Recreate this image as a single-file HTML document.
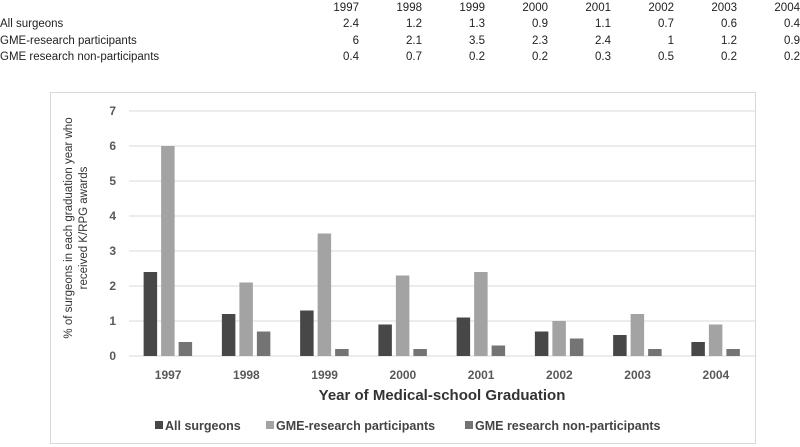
<!DOCTYPE html>
<html><head><meta charset="utf-8"><style>
body{margin:0;width:800px;height:447px;background:#fff;font-family:"Liberation Sans",sans-serif;overflow:hidden;position:relative}
#tbl{position:absolute;left:0;top:0;font-size:11.5px;color:#222}
.r{position:absolute;white-space:nowrap;height:16px;line-height:16px}
.c{position:absolute;text-align:right;width:50px}
</style></head><body>
<div id="tbl"></div>
<svg id="ch" width="800" height="447" style="position:absolute;left:0;top:0"></svg>
<script>
const years=["1997","1998","1999","2000","2001","2002","2003","2004"];
const seriesNames=["All surgeons","GME-research participants","GME research non-participants"];
const allSurgeons=[2.4,1.2,1.3,0.9,1.1,0.7,0.6,0.4];
const gmeParticipants=[6,2.1,3.5,2.3,2.4,1,1.2,0.9];
const gmeNonParticipants=[0.4,0.7,0.2,0.2,0.3,0.5,0.2,0.2];
const yTicks=[0,1,2,3,4,5,6,7];
const series=[allSurgeons,gmeParticipants,gmeNonParticipants];
const colors=["#474747","#a3a3a3","#747474"];
const NS="http://www.w3.org/2000/svg";

const tbl=document.getElementById('tbl');
const rowY=[0,16,33,49];
const hdr=document.createElement('div');hdr.className='r';hdr.style.top=rowY[0]+'px';hdr.style.left='0px';


years.forEach((y,i)=>{const c=document.createElement('span');c.className='c';c.style.left=(359-50+i*63)+'px';c.textContent=y;hdr.appendChild(c);});
tbl.appendChild(hdr);
series.forEach((s,k)=>{
  const r=document.createElement('div');r.className='r';r.style.top=rowY[k+1]+'px';r.style.width='800px';
  
  
  const l=document.createElement('span');l.style.position='absolute';l.style.left='0px';l.textContent=seriesNames[k];r.appendChild(l);
  s.forEach((v,i)=>{const c=document.createElement('span');c.className='c';c.style.left=(359-50+i*63)+'px';c.textContent=v;r.appendChild(c);});
  tbl.appendChild(r);
});

const svg=document.getElementById('ch');
function el(t,a,txt){const e=document.createElementNS(NS,t);for(const k in a)e.setAttribute(k,a[k]);if(txt!==undefined)e.textContent=txt;svg.appendChild(e);return e;}
const px0=129,px1=755,py0=356,py7=111;
const yS=v=>py0-(v/7)*(py0-py7);
const cw=(px1-px0)/years.length;
const xC=i=>px0+cw*(i+0.5);
const box=el('rect',{x:50.5,y:92.5,width:705,height:351,fill:'#fff',stroke:'#d9d9d9','stroke-width':1});


yTicks.forEach(t=>{
  const g=el('line',{x1:px0,x2:px1,y1:yS(t),y2:yS(t),stroke:'#d9d9d9','stroke-width':1});
  
  
  const tl=el('text',{x:116,y:yS(t)+4,'text-anchor':'end','font-size':12,'font-weight':'bold',fill:'#595959'},t);
  
  
});
const bw=13.5,off=[-24.5,-7,10.5];
series.forEach((s,k)=>{
  s.forEach((v,i)=>{
    const b=el('rect',{x:xC(i)+off[k],y:yS(v),width:bw,height:yS(0)-yS(v),fill:colors[k]});
    
    
  });
});
years.forEach((y,i)=>{
  const t=el('text',{x:xC(i),y:379,'text-anchor':'middle','font-size':12,'font-weight':'bold',fill:'#595959'},y);
  
  
});
const xt=el('text',{x:442,y:400,'text-anchor':'middle','font-size':15,'font-weight':'bold',fill:'#333'},'Year of Medical-school Graduation');


const yt=el('text',{transform:'translate(72,228) rotate(-90)','text-anchor':'middle','font-size':11.5,fill:'#333'});


const t1=document.createElementNS(NS,'tspan');t1.setAttribute('x',0);t1.setAttribute('dy',0);t1.textContent='% of surgeons in each graduation year who';yt.appendChild(t1);
const t2=document.createElementNS(NS,'tspan');t2.setAttribute('x',0);t2.setAttribute('dy',15);t2.textContent='received K/RPG awards';yt.appendChild(t2);
const legX=[155,266,465];
seriesNames.forEach((n,k)=>{
  const s=el('rect',{x:legX[k],y:421,width:8,height:8,fill:colors[k]});
  
  
  const t=el('text',{x:legX[k]+10,y:430,'font-size':12.5,'font-weight':'bold',fill:'#444'},n);
  
  
});
</script>
</body></html>
